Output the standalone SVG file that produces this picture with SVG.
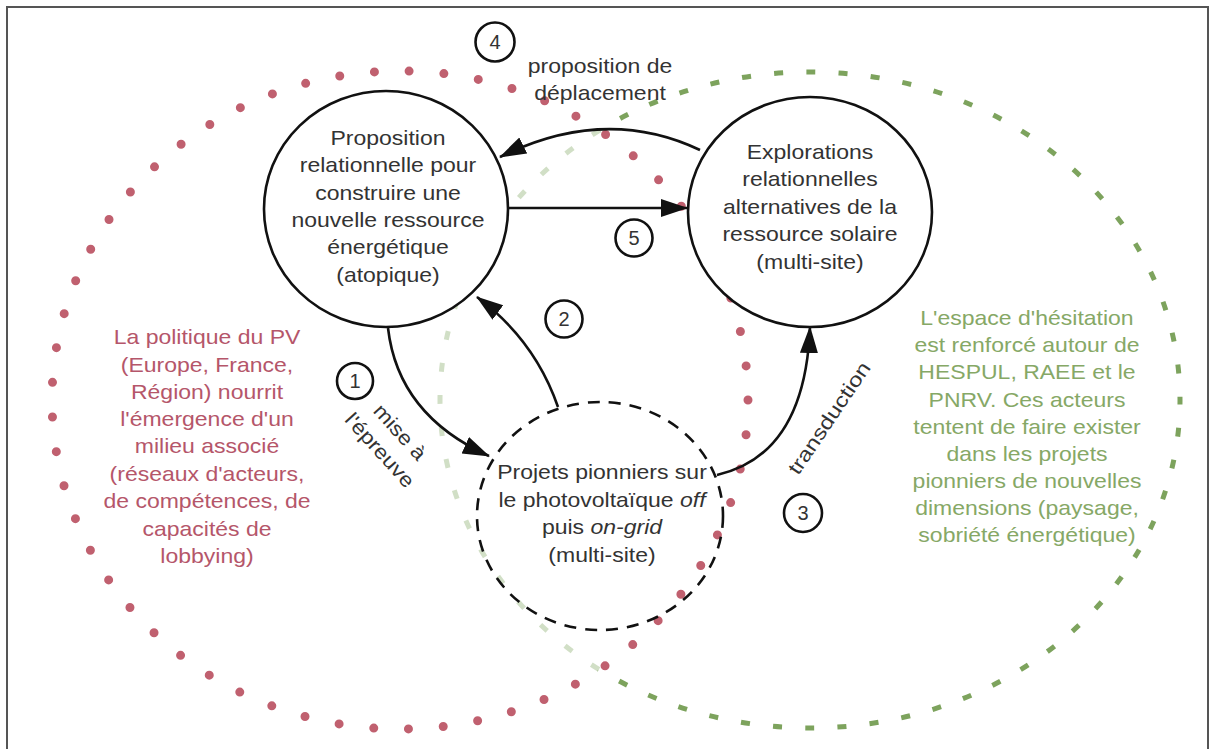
<svg xmlns="http://www.w3.org/2000/svg" width="1215" height="749" viewBox="0 0 1215 749">
<style>
.t{font-family:"Liberation Sans",Arial,sans-serif;font-size:20px;fill:#333;text-anchor:middle}
.red{fill:#b5566a}
.grn{fill:#86a866}
.node{fill:#fff;stroke:#111;stroke-width:2.6}
.num{fill:#fff;stroke:#111;stroke-width:2.6}
.arr{fill:none;stroke:#111;stroke-width:2.6;marker-end:url(#ah)}
</style>
<defs>
<marker id="ah" markerUnits="userSpaceOnUse" markerWidth="28" markerHeight="20" refX="26" refY="9" orient="auto">
<path d="M0,0 L27,9 L0,18 z" fill="#111"/>
</marker>
</defs>
<rect x="0" y="0" width="1215" height="749" fill="#fff"/>
<rect x="7" y="7" width="1201" height="800" fill="none" stroke="#555" stroke-width="2"/>
<g id="zones">
<ellipse cx="810" cy="400" rx="370" ry="328" fill="none" stroke="#7da35d" stroke-width="5" stroke-dasharray="9 23.28" stroke-dashoffset="4.5"/>
<ellipse cx="400" cy="400" rx="348" ry="329" fill="#fff" fill-opacity="0.65" stroke="none"/>
<ellipse cx="400" cy="400" rx="348" ry="329" fill="none" stroke="#c0606f" stroke-width="9" stroke-linecap="round" stroke-dasharray="0 34.87"/>
</g>
<g id="node-proposition">
<ellipse class="node" cx="386" cy="209" rx="122" ry="118"/>
<text class="t" transform="translate(388,0) scale(1.15,1)"><tspan x="0" y="145">Proposition</tspan><tspan x="0" y="172">relationnelle pour</tspan><tspan x="0" y="200">construire une</tspan><tspan x="0" y="227">nouvelle ressource</tspan><tspan x="0" y="254">énergétique</tspan><tspan x="0" y="282">(atopique)</tspan></text>
</g>
<g id="node-explorations">
<ellipse class="node" cx="810" cy="212" rx="122" ry="115"/>
<text class="t" transform="translate(810,0) scale(1.15,1)"><tspan x="0" y="159">Explorations</tspan><tspan x="0" y="186">relationnelles</tspan><tspan x="0" y="214">alternatives de la</tspan><tspan x="0" y="241">ressource solaire</tspan><tspan x="0" y="269">(multi-site)</tspan></text>
</g>
<g id="node-projets">
<ellipse cx="600" cy="516" rx="123" ry="114" fill="none" stroke="#111" stroke-width="2.6" stroke-dasharray="12 9"/>
<text class="t" transform="translate(602,0) scale(1.15,1)"><tspan x="0" y="479">Projets pionniers sur</tspan><tspan x="0" y="507">le photovoltaïque <tspan font-style="italic">off</tspan></tspan><tspan x="0" y="534">puis <tspan font-style="italic">on-grid</tspan></tspan><tspan x="0" y="562">(multi-site)</tspan></text>
</g>
<g id="connectors">
<path class="arr" d="M700,150 Q605,105 500,157"/>
<path class="arr" d="M509,208 L687,208"/>
<path class="arr" d="M388,328 Q398,415 489,456"/>
<path class="arr" d="M558,407 Q535,340 477,297"/>
<path class="arr" d="M717,475 Q805,455 810,327"/>
</g>
<g id="label-deplacement">
<text class="t" transform="translate(600,0) scale(1.15,1)"><tspan x="0" y="73">proposition de</tspan><tspan x="0" y="100">déplacement</tspan></text>
</g>
<g id="label-epreuve">
<text class="t" transform="translate(400,432) rotate(48) scale(1.15,1)"><tspan x="0" y="7">mise à</tspan><tspan x="0" y="34">l'épreuve</tspan></text>
</g>
<g id="label-transduction">
<text class="t" transform="translate(829,418) rotate(-56) scale(1.2,1)" x="0" y="7" font-size="21">transduction</text>
</g>
<g id="num-1"><circle class="num" cx="355" cy="381" r="18"/><text class="t" x="355" y="388">1</text></g>
<g id="num-2"><circle class="num" cx="564" cy="319" r="18.5"/><text class="t" x="564" y="326">2</text></g>
<g id="num-3"><circle class="num" cx="803" cy="513" r="19"/><text class="t" x="803" y="520">3</text></g>
<g id="num-4"><circle class="num" cx="495" cy="42" r="19.5"/><text class="t" x="495" y="49">4</text></g>
<g id="num-5"><circle class="num" cx="634" cy="238" r="18.5"/><text class="t" x="634" y="245">5</text></g>
<g id="label-politique">
<text class="t red" transform="translate(207,0) scale(1.15,1)"><tspan x="0" y="344">La politique du PV</tspan><tspan x="0" y="372">(Europe, France,</tspan><tspan x="0" y="399">Région) nourrit</tspan><tspan x="0" y="426">l'émergence d'un</tspan><tspan x="0" y="453">milieu associé</tspan><tspan x="0" y="481">(réseaux d'acteurs,</tspan><tspan x="0" y="508">de compétences, de</tspan><tspan x="0" y="536">capacités de</tspan><tspan x="0" y="563">lobbying)</tspan></text>
</g>
<g id="label-hesitation">
<text class="t grn" transform="translate(1027,0) scale(1.15,1)"><tspan x="0" y="325">L'espace d'hésitation</tspan><tspan x="0" y="352">est renforcé autour de</tspan><tspan x="0" y="379">HESPUL, RAEE et le</tspan><tspan x="0" y="407">PNRV. Ces acteurs</tspan><tspan x="0" y="434">tentent de faire exister</tspan><tspan x="0" y="461">dans les projets</tspan><tspan x="0" y="488">pionniers de nouvelles</tspan><tspan x="0" y="515">dimensions (paysage,</tspan><tspan x="0" y="542">sobriété énergétique)</tspan></text>
</g>
</svg>
